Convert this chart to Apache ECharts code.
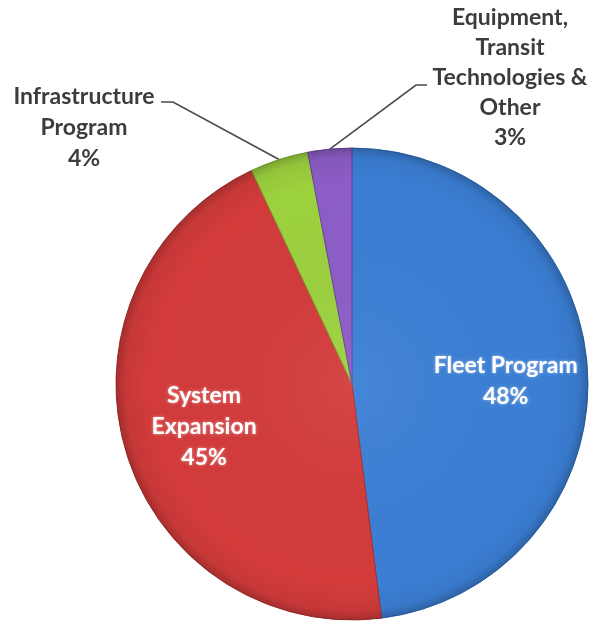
<!DOCTYPE html>
<html>
<head>
<meta charset="utf-8">
<script src="https://cdn.jsdelivr.net/npm/echarts@6/dist/echarts.min.js"></script>
<style>
  html, body { margin: 0; padding: 0; background: #fff; }
  #chart { width: 593px; height: 625px; }
</style>
</head>
<body>
<div id="chart"></div>
<script>
const categories = ["Fleet Program", "System Expansion", "Infrastructure Program", "Equipment, Transit Technologies & Other"]
const labelNames = ["Fleet Program", "System\nExpansion", "Infrastructure\nProgram", "Equipment,\nTransit\nTechnologies &\nOther"]
const values = [48, 45, 4, 3]
const colors = ["#3b7fd5", "#d33b3b", "#9cd13e", "#8c5dc7"]
const edges = ["#2f66ad", "#a83030", "#78a32e", "#6a449c"]

const chart = echarts.init(document.getElementById("chart"), null, { renderer: "canvas" })

const center = [352, 384]
const R = 236

const textBase = {
  fontFamily: "Lato",
  fontWeight: "bold",
  fontSize: 23
}

// where the two outside labels sit, and the bend of their leader lines
const outsideLayout = {
  2: { x: 84, y: 128, lineHeight: 31, bend: [173, 102], end: [161, 102] },
  3: { x: 510, y: 78, lineHeight: 30, bend: [416, 85], end: [427, 85] }
}

chart.setOption({
  animation: false,
  series: [
    {
      type: "pie",
      center,
      radius: [0, R],
      startAngle: 90,
      clockwise: true,
      silent: true,
      data: categories.map((name, i) => ({
        name,
        value: values[i],
        itemStyle: { color: colors[i], borderColor: edges[i], borderWidth: 1 },
        label: i < 2 ? { show: false } : Object.assign({
          show: true,
          position: "outside",
          align: "center",
          overflow: "none",
          color: "#3c3c3c",
          lineHeight: outsideLayout[i].lineHeight,
          formatter: labelNames[i] + "\n{d}%"
        }, textBase),
        labelLine: i < 2 ? { show: false } : {
          show: true,
          length: 10,
          length2: 10,
          lineStyle: { color: "#4a4a4a", width: 1.6 }
        }
      })),
      labelLayout: function (p) {
        const o = outsideLayout[p.dataIndex]
        if (!o) return {}
        const pts = p.labelLinePoints
        return {
          x: o.x, y: o.y, align: "center", verticalAlign: "middle",
          labelLinePoints: pts ? [pts[0], o.bend, o.end] : undefined
        }
      }
    },
    {
      // soft darkening toward the rim
      type: "pie",
      center,
      radius: [0, R],
      silent: true,
      label: { show: false },
      labelLine: { show: false },
      itemStyle: {
        color: {
          type: "radial", x: 0.5, y: 0.5, r: 0.5,
          colorStops: [
            { offset: 0, color: "rgba(255,255,255,0.06)" },
            { offset: 0.85, color: "rgba(0,0,0,0)" },
            { offset: 0.96, color: "rgba(0,0,0,0.06)" },
            { offset: 1, color: "rgba(0,0,0,0.22)" }
          ]
        }
      },
      data: [{ value: 1, name: "shade" }]
    },
    {
      // label carrier for the large slices
      type: "pie",
      center,
      radius: [66, R],
      startAngle: 90,
      silent: true,
      itemStyle: { color: "rgba(0,0,0,0)" },
      data: categories.map((name, i) => ({
        name,
        value: values[i],
        label: i < 2 ? Object.assign({
          show: true,
          position: "inside",
          color: "#fff",
          lineHeight: 31,
          textShadowColor: "rgba(255,255,255,0.55)",
          textShadowBlur: 3,
          formatter: labelNames[i] + "\n{d}%"
        }, textBase) : { show: false }
      })),
      labelLayout: function (p) {
        return p.dataIndex === 0 ? { dy: 7 } : {}
      }
    }
  ]
})
</script>
</body>
</html>
